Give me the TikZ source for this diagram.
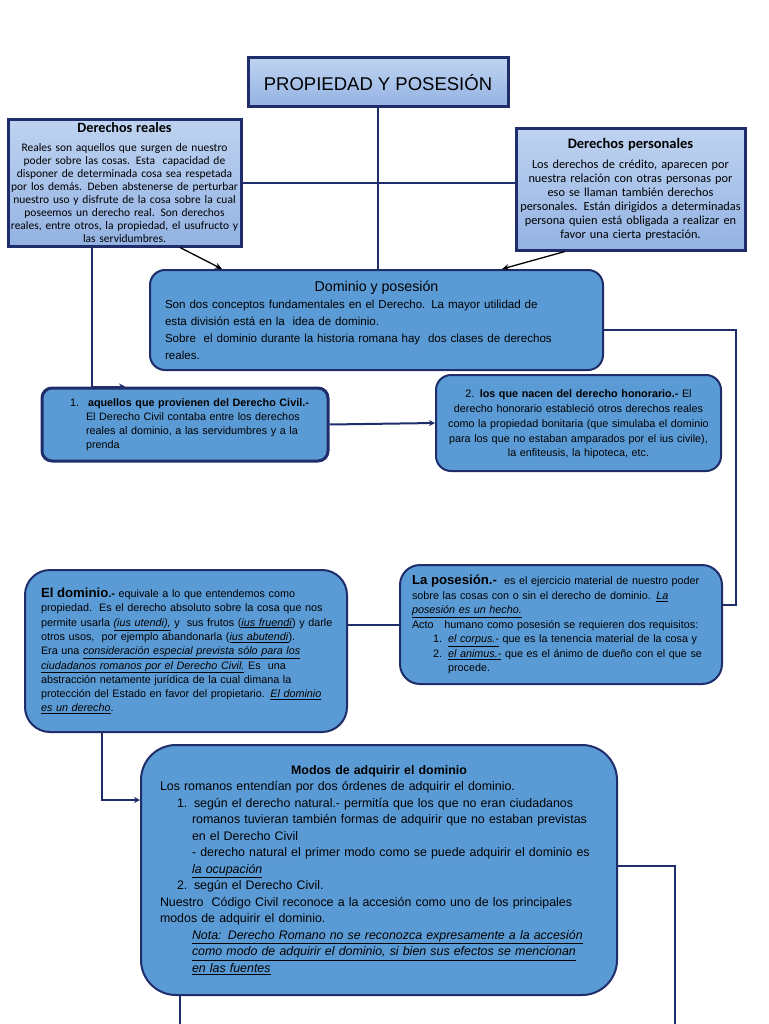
\documentclass[tikz,border=0pt]{standalone}
\usepackage{fontspec}
\setmainfont{Liberation Sans}
\newfontfamily\calibri{Carlito}
\usetikzlibrary{arrows.meta,positioning,shadings}
\definecolor{navy}{HTML}{1F2D6B}
\definecolor{lightA}{HTML}{BED3F1}
\definecolor{lightB}{HTML}{93B2E2}
\definecolor{midblue}{HTML}{5B9BD5}
\newcommand{\subit}[1]{\underline{\textit{#1}}}
\begin{document}
\begin{tikzpicture}[x=1pt,y=-1pt,
    titlebox/.style={draw=navy,line width=3pt,top color=lightA,bottom color=lightB},
    sqbox/.style={draw=navy,line width=3pt,top color=lightA,bottom color=lightB,
      align=center,inner sep=0pt,font=\calibri},
    rbox/.style={draw=navy,line width=2pt,fill=midblue,rounded corners=#1,
      align=left,inner sep=0pt},
    rbox/.default=15pt,
    link/.style={navy,line width=2pt},
    navyarrow/.style={link,-{Stealth[length=6pt,width=6pt]}},
    blackarrow/.style={black,line width=1.3pt,-{Stealth[length=7pt,width=6pt]}}
  ]
  \useasboundingbox (0,0) rectangle (768,1024);
  % Title and the two kinds of rights.
  \node[titlebox,minimum width=260,minimum height=49,font=\fontsize{18.5}{22}\selectfont]
    (titulo) at (378,82.5) {PROPIEDAD Y POSESIÓN};
  \node[sqbox,minimum width=233,minimum height=126,text width=231,
    font=\calibri\fontsize{11.5}{13}\selectfont] (reales) at (124.5,183)
    {{\fontsize{14.2}{15}\selectfont\bfseries Derechos reales}\\[6pt]
     Reales son aquellos que surgen de nuestro\\
     poder sobre las cosas. Esta\ \ capacidad de\\
     disponer de determinada cosa sea respetada\\
     por los demás. Deben abstenerse de perturbar\\
     nuestro uso y disfrute de la cosa sobre la cual\\
     poseemos un derecho real. Son derechos\\
     reales, entre otros, la propiedad, el usufructo y\\
     las servidumbres.};
  \node[sqbox,minimum width=229,minimum height=121,text width=228,
    font=\calibri\fontsize{12.3}{14}\selectfont] (personales) at (630.5,189.5)
    {{\fontsize{14.5}{16}\selectfont\bfseries Derechos personales}\\[6pt]
     Los derechos de crédito, aparecen por\\
     nuestra relación con otras personas por\\
     eso se llaman también derechos\\
     \mbox{personales. Están dirigidos a determinadas}\\
     persona quien está obligada a realizar en\\
     favor una cierta prestación.};
  % Dominio y posesión.
  \node[rbox,minimum width=453,minimum height=100,text width=423,
    font=\fontsize{11.6}{17}\selectfont] (dominio) at (376.5,320)
    {\makebox[\linewidth][c]{\fontsize{14.2}{15}\selectfont Dominio y posesión}\\
     Son dos conceptos fundamentales en el Derecho. La mayor utilidad de\\
     esta división está en la\ \ idea de dominio.\\
     Sobre\ \ el dominio durante la historia romana hay\ \ dos clases de derechos\\
     reales.};
  \node[rbox=10pt,line width=3pt,minimum width=286,minimum height=73,text width=230,
    font=\fontsize{10.8}{14}\selectfont] (civil) at (185,424.5)
    {\mbox{1.\hspace{9pt}\textbf{aquellos que provienen del Derecho Civil.-}}\\
     \mbox{\hspace*{16pt}El Derecho Civil contaba entre los derechos}\\
     \mbox{\hspace*{16pt}reales al dominio, a las servidumbres y a la}\\
     \hspace*{16pt}prenda};
  \node[rbox,align=center,minimum width=285,minimum height=96,text width=283,
    font=\fontsize{10.8}{14.8}\selectfont] (honorario) at (578.5,423)
    {\\[-4pt]2. \textbf{los que nacen del derecho honorario.-} El\\
     derecho honorario estableció otros derechos reales\\
     como la propiedad bonitaria (que simulaba el dominio\\
     para los que no estaban amparados por el ius civile),\\
     la enfiteusis, la hipoteca, etc.};
  % Dominio and posesion.
  \node[rbox=25pt,minimum width=322,minimum height=162,text width=290,
    font=\fontsize{10.8}{14.3}\selectfont] (eldominio) at (186,651)
    {\mbox{\textbf{\fontsize{13.2}{14}\selectfont El dominio}\textbf{.-} equivale a lo que entendemos como}\\
     \mbox{propiedad.\ \ Es el derecho absoluto sobre la cosa que nos}\\
     \mbox{permite usarla \subit{(ius utendi),} y\ \ sus frutos (\subit{ius fruendi}) y darle}\\
     otros usos,\ \ por ejemplo abandonarla (\subit{ius abutendi}).\\
     Era una \subit{consideración especial prevista sólo para los}\\
     \subit{ciudadanos romanos por el Derecho Civil.} Es\ \ una\\
     abstracción netamente jurídica de la cual dimana la\\
     \mbox{protección del Estado en favor del propietario. \subit{El dominio}}\\
     \subit{es un derecho}.};
  \node[rbox=20pt,minimum width=322,minimum height=119,text width=298,
    font=\fontsize{10.8}{14.5}\selectfont] (posesion) at (561,624.5)
    {\mbox{\textbf{\fontsize{13.2}{14}\selectfont La posesión.-}\ \ es el ejercicio material de nuestro poder}\\
     sobre las cosas con o sin el derecho de dominio. \subit{La}\\
     \subit{posesión es un hecho.}\\
     \mbox{Acto\ \ \ humano como posesión se requieren dos requisitos:}\\
     \mbox{\hspace*{21pt}\makebox[15pt][l]{1.}\subit{el corpus.-} que es la tenencia material de la cosa y}\\
     \mbox{\hspace*{21pt}\makebox[15pt][l]{2.}\subit{el animus.-} que es el ánimo de dueño con el que se}\\
     \hspace*{36pt}procede.};
  % Modos de adquirir el dominio.
  \node[rbox=35pt,minimum width=476,minimum height=250,text width=438,
    font=\fontsize{12.4}{16.5}\selectfont] (modos) at (379,870)
    {\makebox[\linewidth][c]{\bfseries Modos de adquirir el dominio}\\
     Los romanos entendían por dos órdenes de adquirir el dominio.\\
     \mbox{\hspace*{17pt}\makebox[17pt][l]{1.}según el derecho natural.- permitía que los que no eran ciudadanos}\\
     \mbox{\hspace*{32pt}romanos tuvieran también formas de adquirir que no estaban previstas}\\
     \hspace*{32pt}en el Derecho Civil\\
     \mbox{\hspace*{32pt}- derecho natural el primer modo como se puede adquirir el dominio es}\\
     \hspace*{32pt}\subit{la ocupación}\\
     \hspace*{17pt}\makebox[17pt][l]{2.}según el Derecho Civil.\\
     \mbox{Nuestro\ \ Código Civil reconoce a la accesión como uno de los principales}\\
     modos de adquirir el dominio.\\
     \mbox{\hspace*{32pt}\subit{Nota: Derecho Romano no se reconozca expresamente a la accesión}}\\
     \mbox{\hspace*{32pt}\subit{como modo de adquirir el dominio, si bien sus efectos se mencionan}}\\
     \hspace*{32pt}\subit{en las fuentes}};
  \coordinate (finizq) at (180,1024);
  \coordinate (finder) at (675,1024);
  % Connectors.
  \draw[link] (titulo.south) -- (titulo.south |- dominio.north);
  \draw[link] (reales.east) -- (personales.west |- reales.east);
  \draw[blackarrow] ([xshift=55.5pt]reales.south) -- ([xshift=-154.5pt]dominio.north);
  \draw[blackarrow] ([xshift=-65.5pt]personales.south) -- ([xshift=125.5pt]dominio.north);
  \draw[navyarrow] ([xshift=-32.5pt]reales.south) |- ([xshift=-60pt]civil.north);
  \draw[navyarrow] (civil.east) -- (honorario.west);
  \draw[link] ([yshift=-10pt]dominio.east) -- ++(132,0) |- ([yshift=20pt]posesion.east);
  \draw[link] ([yshift=26pt]eldominio.east) -- ([yshift=26pt]eldominio.east -| posesion.west);
  \draw[navyarrow] ([xshift=-84pt]eldominio.south) |- ([yshift=70pt]modos.west);
  \draw[link] ([xshift=-199pt]modos.south) -- (finizq);
  \draw[link] ([yshift=4pt]modos.east) -| (finder);
\end{tikzpicture}
\end{document}
